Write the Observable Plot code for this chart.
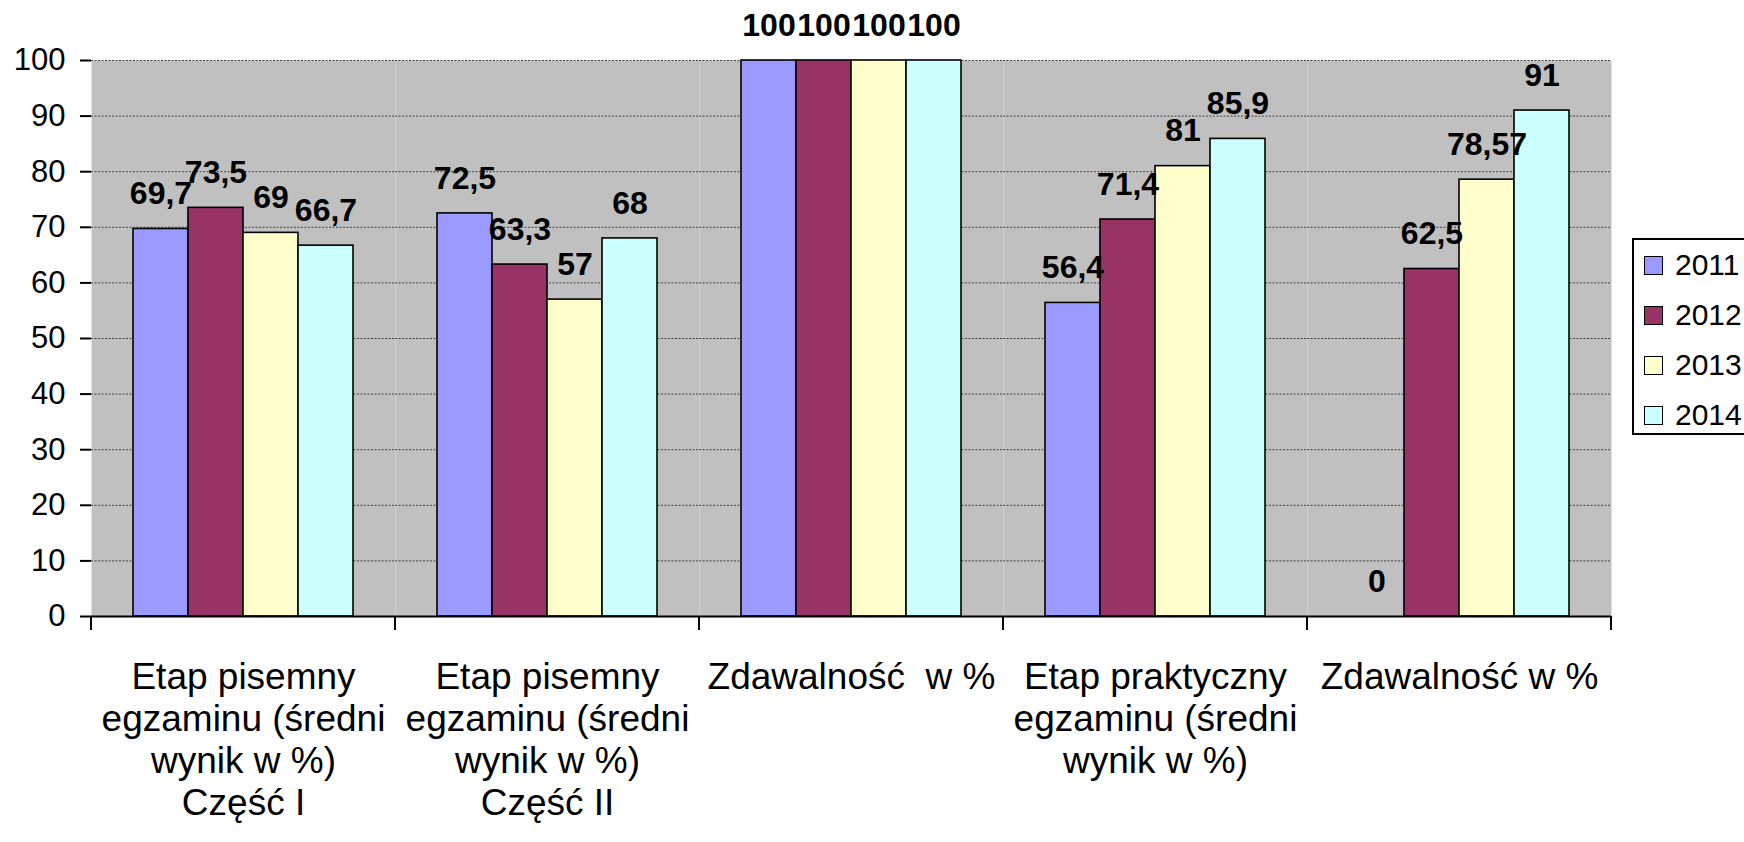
<!DOCTYPE html>
<html>
<head>
<meta charset="utf-8">
<script src="https://cdn.jsdelivr.net/npm/d3@7"></script>
<script src="https://cdn.jsdelivr.net/npm/@observablehq/plot@0.6"></script>
<style>
  html, body { margin: 0; padding: 0; background: #ffffff; overflow: hidden; }
  #wrap { position: relative; width: 1744px; height: 842px; font-family: "Liberation Sans", Arial, sans-serif; }
  #legend { position: absolute; left: 1632px; top: 238px; width: 140px; height: 197px; border: 2px solid #000; background: #fff; box-sizing: border-box; }
  .li { position: absolute; left: 10px; display: flex; align-items: center; font-size: 30px; color: #000; }
  .sw { width: 17px; height: 17px; border: 1.5px solid #000; margin-right: 12px; }
</style>
</head>
<body>
<div id="wrap"></div>
<script>
const categories = [
  "Etap pisemny\negzaminu (średni\nwynik w %)\nCzęść I",
  "Etap pisemny\negzaminu (średni\nwynik w %)\nCzęść II",
  "Zdawalność  w %",
  "Etap praktyczny\negzaminu (średni\nwynik w %)",
  "Zdawalność w %"
];
const years = ["2011", "2012", "2013", "2014"];
const values2011 = [69.7, 72.5, 100, 56.4, 0];
const values2012 = [73.5, 63.3, 100, 71.4, 62.5];
const values2013 = [69, 57, 100, 81, 78.57];
const values2014 = [66.7, 68, 100, 85.9, 91];
const yearColors = ["#9999FF", "#993366", "#FFFFCC", "#CCFFFF"];
const yTicks = [0, 10, 20, 30, 40, 50, 60, 70, 80, 90, 100];

const series = [values2011, values2012, values2013, values2014];
const data = categories.flatMap((cat, i) =>
  years.map((yr, j) => ({cat, year: yr, value: series[j][i]}))
);
const fmt = v => String(v).replace(".", ",");

// Category separator ticks (Excel-style ticks between categories)
class CategoryTicks extends Plot.Mark {
  constructor(data, options = {}) {
    super(data, {}, options, {ariaLabel: "category ticks"});
    this.len = options.len ?? 14;
  }
  render(index, scales, values, dimensions) {
    const {marginLeft, marginRight, marginBottom, width, height} = dimensions;
    const g = d3.create("svg:g");
    if (!index.length) return g.node();
    const yb = height - marginBottom;
    for (const x of [marginLeft, width - marginRight]) {
      g.append("line")
        .attr("x1", x).attr("x2", x)
        .attr("y1", yb).attr("y2", yb + this.len)
        .attr("stroke", "#000").attr("stroke-width", 2);
    }
    return g.node();
  }
}

const chart = Plot.plot({
  width: 1744,
  height: 842,
  marginLeft: 89,
  marginRight: 132,
  marginTop: 60,
  marginBottom: 226,
  style: {fontFamily: '"Liberation Sans", Arial, sans-serif', background: "#ffffff", color: "#000"},
  fx: {domain: categories, padding: 0, label: null},
  x: {domain: years, paddingInner: 0, paddingOuter: 0.75, axis: null},
  y: {domain: [0, 100], label: null},
  color: {domain: years, range: yearColors},
  marks: [
    Plot.frame({fill: "#C0C0C0", stroke: null}),
    Plot.gridY(yTicks.filter(d => d > 0), {stroke: "#404040", strokeOpacity: 1, strokeWidth: 1, strokeDasharray: "2,1.5"}),
    Plot.barY(data, {fx: "cat", x: "year", y: "value", fill: "year", stroke: "#000", strokeWidth: 1.6}),
    Plot.text(data, {fx: "cat", x: "year", y: "value", text: d => fmt(d.value), dy: -35, fontSize: 32, fontWeight: "bold", fill: "#000"}),
    Plot.ruleY([0], {stroke: "#000", strokeWidth: 2}),
    new CategoryTicks(categories, {fx: d => d, len: 14}),
    Plot.axisY(yTicks, {anchor: "left", tickSize: 11, tickPadding: 15, fontSize: 31, line: true, stroke: "#000", strokeWidth: 2, label: null}),
    Plot.axisFx({anchor: "bottom", tickSize: 0, tickPadding: 43, fontSize: 37, lineHeight: 1.13, label: null})
  ]
});

const wrap = document.getElementById("wrap");
wrap.appendChild(chart);

const legend = document.createElement("div");
legend.id = "legend";
years.forEach((yr, j) => {
  const item = document.createElement("div");
  item.className = "li";
  item.style.top = (8 + j * 50) + "px";
  const sw = document.createElement("div");
  sw.className = "sw";
  sw.style.background = yearColors[j];
  const t = document.createElement("span");
  t.textContent = yr;
  item.appendChild(sw);
  item.appendChild(t);
  legend.appendChild(item);
});
wrap.appendChild(legend);
</script>
</body>
</html>
